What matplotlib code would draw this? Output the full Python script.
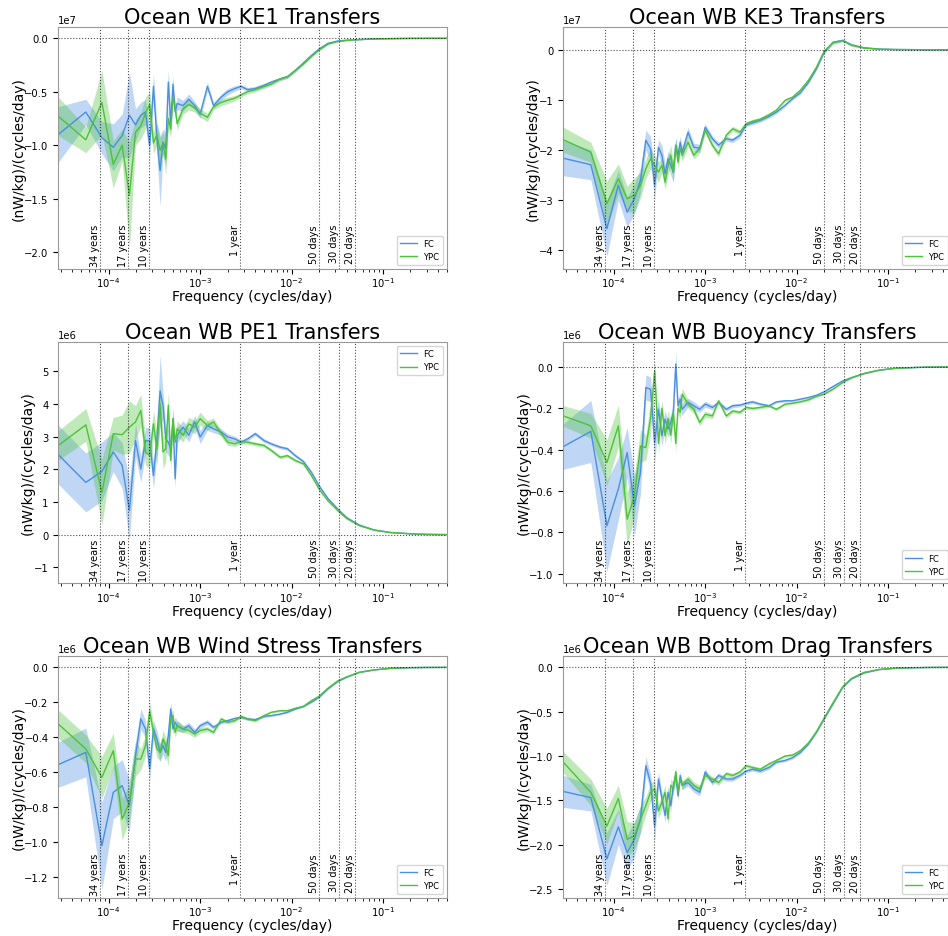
import matplotlib
matplotlib.use('Agg')
import matplotlib.pyplot as plt
import numpy as np

# frequency (cycles/day) shared by all panels
freq = [2.8e-5, 5.6e-5, 8.4e-5, 1.12e-4, 1.4e-4, 1.68e-4, 1.96e-4, 2.24e-4, 2.52e-4, 2.8e-4,
        3.08e-4, 3.36e-4, 3.64e-4, 3.92e-4, 4.2e-4, 4.48e-4, 4.76e-4, 5.04e-4, 5.32e-4, 5.6e-4,
        6.5e-4, 7.5e-4, 8.7e-4, 1.0e-3, 1.2e-3, 1.4e-3, 1.7e-3, 2.0e-3, 2.4e-3, 2.8e-3,
        3.3e-3, 4.0e-3, 5.0e-3, 6.0e-3, 7.5e-3, 9.0e-3, 1.1e-2, 1.35e-2, 1.65e-2, 2.0e-2,
        2.5e-2, 3.2e-2, 4.0e-2, 5.5e-2, 8.0e-2, 0.12, 0.2, 0.3, 0.5]

# KE1 (x1e7)
ke1_fc = [-0.90, -0.69, -0.93, -1.02, -0.91, -0.72, -0.81, -0.72, -0.69, -1.00,
          -0.45, -0.94, -1.24, -0.97, -1.03, -0.41, -0.79, -0.43, -0.69, -0.61,
          -0.63, -0.57, -0.63, -0.71, -0.45, -0.63, -0.55, -0.50, -0.47, -0.45,
          -0.48, -0.47, -0.44, -0.41, -0.38, -0.36, -0.30, -0.23, -0.16, -0.10,
          -0.047, -0.025, -0.018, -0.012, -0.006, -0.003, -0.001, -0.0005, -0.0002]
ke1_fc_err = [0.26, 0.12, 0.15, 0.22, 0.20, 0.40, 0.15, 0.12, 0.12, 0.12,
              0.12, 0.15, 0.33, 0.12, 0.15, 0.12, 0.10, 0.08, 0.06, 0.06,
              0.05, 0.05, 0.04, 0.04, 0.04, 0.03, 0.03, 0.03, 0.025, 0.02,
              0.02, 0.02, 0.02, 0.015, 0.015, 0.015, 0.015, 0.012, 0.01, 0.008,
              0.005, 0.004, 0.003, 0.002, 0.001, 0.001, 0.0005, 0.0003, 0.0002]
ke1_ypc = [-0.73, -0.95, -0.60, -1.18, -1.00, -1.47, -0.88, -0.82, -0.70, -0.62,
           -0.98, -0.90, -1.05, -0.98, -1.13, -0.75, -0.85, -0.55, -0.65, -0.80,
           -0.66, -0.62, -0.65, -0.70, -0.74, -0.64, -0.60, -0.58, -0.56, -0.53,
           -0.50, -0.48, -0.45, -0.43, -0.38, -0.36, -0.30, -0.24, -0.17, -0.11,
           -0.055, -0.030, -0.020, -0.012, -0.006, -0.003, -0.001, -0.0005, -0.0002]
ke1_ypc_err = [0.18, 0.12, 0.30, 0.22, 0.15, 0.50, 0.12, 0.12, 0.15, 0.12,
               0.10, 0.10, 0.12, 0.10, 0.15, 0.10, 0.08, 0.07, 0.06, 0.06,
               0.05, 0.05, 0.04, 0.04, 0.04, 0.03, 0.03, 0.03, 0.025, 0.02,
               0.02, 0.02, 0.02, 0.015, 0.015, 0.015, 0.015, 0.012, 0.01, 0.008,
               0.005, 0.004, 0.003, 0.002, 0.001, 0.001, 0.0005, 0.0003, 0.0002]

# KE3 (x1e7)
ke3_fc = [-2.17, -2.30, -3.58, -2.71, -3.25, -2.98, -2.61, -1.81, -1.98, -2.71,
          -1.95, -2.11, -2.48, -2.18, -2.31, -2.45, -1.91, -2.11, -1.85, -2.05,
          -1.65, -1.95, -1.97, -1.55, -1.78, -1.91, -1.78, -1.81, -1.71, -1.50,
          -1.46, -1.41, -1.33, -1.25, -1.11, -0.98, -0.86, -0.65, -0.38, -0.05,
          0.15, 0.19, 0.10, 0.04, 0.015, 0.006, 0.002, 0.001, 0.0]
ke3_fc_err = [0.35, 0.30, 0.55, 0.30, 0.30, 0.30, 0.25, 0.20, 0.25, 0.30,
              0.15, 0.20, 0.20, 0.15, 0.20, 0.20, 0.15, 0.12, 0.12, 0.12,
              0.10, 0.08, 0.08, 0.07, 0.06, 0.06, 0.05, 0.05, 0.05, 0.04,
              0.04, 0.04, 0.04, 0.03, 0.03, 0.03, 0.03, 0.03, 0.03, 0.03,
              0.03, 0.02, 0.02, 0.01, 0.005, 0.003, 0.002, 0.001, 0.0005]
ke3_ypc = [-1.80, -2.05, -3.08, -2.58, -2.98, -2.91, -2.71, -2.38, -2.18, -2.31,
           -2.45, -2.31, -2.65, -2.31, -2.11, -2.45, -1.91, -2.25, -1.98, -2.11,
           -1.85, -2.11, -1.98, -1.61, -1.91, -2.08, -1.71, -1.58, -1.65, -1.48,
           -1.43, -1.39, -1.30, -1.21, -1.01, -0.95, -0.81, -0.61, -0.35, -0.03,
           0.14, 0.18, 0.09, 0.035, 0.012, 0.005, 0.002, 0.001, 0.0]
ke3_ypc_err = [0.25, 0.20, 0.45, 0.30, 0.25, 0.35, 0.25, 0.20, 0.20, 0.20,
               0.20, 0.15, 0.15, 0.20, 0.20, 0.20, 0.15, 0.12, 0.12, 0.12,
               0.10, 0.08, 0.08, 0.07, 0.06, 0.06, 0.05, 0.05, 0.05, 0.04,
               0.04, 0.04, 0.04, 0.03, 0.03, 0.03, 0.03, 0.03, 0.03, 0.03,
               0.03, 0.02, 0.02, 0.01, 0.005, 0.003, 0.002, 0.001, 0.0005]

# PE1 (x1e6)
pe1_fc = [2.45, 1.60, 1.94, 2.53, 2.12, 0.74, 2.88, 2.01, 2.88, 2.88,
          1.81, 2.93, 4.39, 3.96, 2.93, 2.83, 2.63, 3.55, 1.71, 3.04,
          3.29, 3.04, 3.45, 2.99, 3.34, 3.24, 3.14, 2.99, 2.93, 2.83,
          2.93, 3.09, 2.88, 2.78, 2.68, 2.63, 2.42, 2.24, 1.91, 1.50,
          1.11, 0.79, 0.53, 0.30, 0.15, 0.07, 0.03, 0.012, 0.005]
pe1_fc_err = [0.90, 0.90, 0.90, 0.60, 0.70, 0.90, 0.50, 0.40, 0.40, 0.40,
              0.40, 0.50, 1.10, 0.40, 0.40, 0.40, 0.30, 0.30, 0.30, 0.25,
              0.20, 0.20, 0.20, 0.20, 0.15, 0.12, 0.10, 0.10, 0.08, 0.07,
              0.06, 0.06, 0.06, 0.05, 0.05, 0.05, 0.05, 0.04, 0.04, 0.03,
              0.03, 0.02, 0.02, 0.01, 0.01, 0.005, 0.003, 0.002, 0.001]
pe1_ypc = [2.73, 3.36, 1.30, 3.09, 3.06, 3.29, 3.45, 3.80, 2.53, 2.42,
           3.39, 2.63, 4.01, 2.53, 2.63, 3.96, 2.27, 3.55, 2.83, 3.24,
           3.04, 3.39, 3.29, 3.55, 3.34, 3.45, 3.09, 2.83, 2.78, 2.85,
           2.83, 2.78, 2.73, 2.58, 2.37, 2.42, 2.27, 2.17, 1.81, 1.40,
           1.04, 0.74, 0.50, 0.28, 0.14, 0.07, 0.03, 0.012, 0.005]
pe1_ypc_err = [0.45, 0.50, 1.00, 0.50, 0.60, 0.80, 0.50, 0.50, 0.40, 0.40,
               0.40, 0.50, 0.60, 0.50, 0.40, 0.40, 0.30, 0.30, 0.30, 0.25,
               0.20, 0.20, 0.20, 0.20, 0.15, 0.12, 0.10, 0.10, 0.08, 0.07,
               0.06, 0.06, 0.06, 0.05, 0.05, 0.05, 0.05, 0.04, 0.04, 0.03,
               0.03, 0.02, 0.02, 0.01, 0.01, 0.005, 0.003, 0.002, 0.001]

# Buoyancy (x1e6)
buoy_fc = [-0.385, -0.312, -0.768, -0.590, -0.414, -0.671, -0.510, -0.100, -0.108, -0.366,
           -0.205, -0.333, -0.253, -0.300, -0.269, -0.220, 0.013, -0.188, -0.156, -0.205,
           -0.172, -0.188, -0.205, -0.180, -0.196, -0.172, -0.205, -0.188, -0.185, -0.176,
           -0.169, -0.180, -0.188, -0.169, -0.164, -0.164, -0.156, -0.148, -0.137, -0.121,
           -0.095, -0.068, -0.052, -0.032, -0.016, -0.007, -0.003, -0.001, -0.0005]
buoy_fc_err = [0.11, 0.15, 0.22, 0.15, 0.12, 0.15, 0.10, 0.06, 0.06, 0.10,
               0.05, 0.05, 0.04, 0.04, 0.04, 0.04, 0.06, 0.03, 0.03, 0.03,
               0.02, 0.02, 0.015, 0.015, 0.012, 0.01, 0.01, 0.01, 0.008, 0.008,
               0.008, 0.007, 0.007, 0.006, 0.006, 0.005, 0.005, 0.005, 0.004, 0.004,
               0.004, 0.003, 0.002, 0.002, 0.001, 0.0005, 0.0003, 0.0002, 0.0001]
buoy_ypc = [-0.237, -0.285, -0.462, -0.285, -0.736, -0.623, -0.382, -0.390, -0.250, -0.020,
            -0.370, -0.200, -0.333, -0.250, -0.330, -0.220, -0.370, -0.200, -0.220, -0.132,
            -0.180, -0.205, -0.269, -0.229, -0.237, -0.164, -0.237, -0.213, -0.220, -0.196,
            -0.201, -0.196, -0.188, -0.205, -0.180, -0.176, -0.169, -0.159, -0.143, -0.132,
            -0.108, -0.076, -0.053, -0.032, -0.016, -0.007, -0.003, -0.001, -0.0005]
buoy_ypc_err = [0.05, 0.06, 0.11, 0.10, 0.13, 0.10, 0.08, 0.06, 0.08, 0.05,
                0.05, 0.04, 0.04, 0.04, 0.04, 0.04, 0.04, 0.03, 0.03, 0.03,
                0.02, 0.02, 0.015, 0.015, 0.012, 0.01, 0.01, 0.01, 0.008, 0.008,
                0.008, 0.007, 0.007, 0.006, 0.006, 0.005, 0.005, 0.005, 0.004, 0.004,
                0.004, 0.003, 0.002, 0.002, 0.001, 0.0005, 0.0003, 0.0002, 0.0001]

# Wind stress (x1e6)
wind_fc = [-0.558, -0.488, -1.023, -0.717, -0.679, -0.794, -0.507, -0.296, -0.354, -0.583,
           -0.354, -0.411, -0.488, -0.449, -0.488, -0.392, -0.239, -0.354, -0.315, -0.335,
           -0.354, -0.335, -0.373, -0.335, -0.315, -0.344, -0.315, -0.306, -0.293, -0.287,
           -0.296, -0.300, -0.281, -0.277, -0.268, -0.258, -0.239, -0.224, -0.200, -0.172,
           -0.124, -0.082, -0.057, -0.029, -0.015, -0.006, -0.002, -0.001, -0.0005]
wind_fc_err = [0.13, 0.14, 0.25, 0.15, 0.15, 0.15, 0.08, 0.06, 0.05, 0.07,
               0.05, 0.05, 0.05, 0.05, 0.05, 0.06, 0.04, 0.03, 0.03, 0.03,
               0.02, 0.02, 0.02, 0.015, 0.015, 0.012, 0.01, 0.01, 0.008, 0.008,
               0.008, 0.007, 0.007, 0.006, 0.006, 0.005, 0.005, 0.005, 0.004, 0.004,
               0.004, 0.003, 0.002, 0.002, 0.001, 0.0005, 0.0003, 0.0002, 0.0001]
wind_ypc = [-0.325, -0.468, -0.631, -0.478, -0.870, -0.774, -0.526, -0.526, -0.449, -0.249,
            -0.373, -0.468, -0.488, -0.411, -0.449, -0.507, -0.296, -0.277, -0.373, -0.335,
            -0.354, -0.363, -0.382, -0.363, -0.354, -0.373, -0.296, -0.315, -0.306, -0.281,
            -0.296, -0.306, -0.277, -0.258, -0.249, -0.249, -0.235, -0.224, -0.191, -0.166,
            -0.120, -0.078, -0.055, -0.029, -0.015, -0.006, -0.002, -0.001, -0.0005]
wind_ypc_err = [0.08, 0.08, 0.12, 0.10, 0.12, 0.10, 0.10, 0.06, 0.06, 0.05,
                0.05, 0.05, 0.05, 0.05, 0.05, 0.06, 0.04, 0.03, 0.03, 0.03,
                0.02, 0.02, 0.02, 0.015, 0.015, 0.012, 0.01, 0.01, 0.008, 0.008,
                0.008, 0.007, 0.007, 0.006, 0.006, 0.005, 0.005, 0.005, 0.004, 0.004,
                0.004, 0.003, 0.002, 0.002, 0.001, 0.0005, 0.0003, 0.0002, 0.0001]

# Bottom drag (x1e6)
drag_fc = [-1.40, -1.47, -2.16, -1.80, -2.09, -1.94, -1.71, -1.11, -1.30, -1.79,
           -1.26, -1.48, -1.67, -1.41, -1.56, -1.33, -1.22, -1.45, -1.22, -1.33,
           -1.30, -1.37, -1.41, -1.18, -1.30, -1.22, -1.26, -1.26, -1.22, -1.17,
           -1.15, -1.17, -1.13, -1.07, -1.05, -1.02, -0.96, -0.865, -0.733, -0.583,
           -0.414, -0.226, -0.132, -0.064, -0.026, -0.011, -0.004, -0.0015, -0.0005]
drag_fc_err = [0.18, 0.15, 0.30, 0.20, 0.20, 0.20, 0.15, 0.10, 0.10, 0.18,
               0.08, 0.08, 0.08, 0.07, 0.07, 0.07, 0.06, 0.05, 0.05, 0.05,
               0.04, 0.04, 0.04, 0.035, 0.03, 0.03, 0.025, 0.025, 0.02, 0.02,
               0.02, 0.02, 0.02, 0.015, 0.015, 0.015, 0.015, 0.012, 0.01, 0.01,
               0.008, 0.006, 0.004, 0.003, 0.002, 0.001, 0.0005, 0.0003, 0.0002]
drag_ypc = [-1.07, -1.41, -1.79, -1.48, -1.94, -1.90, -1.71, -1.56, -1.41, -1.37,
            -1.62, -1.52, -1.41, -1.71, -1.33, -1.37, -1.18, -1.41, -1.26, -1.33,
            -1.26, -1.33, -1.37, -1.22, -1.26, -1.30, -1.20, -1.22, -1.18, -1.11,
            -1.13, -1.15, -1.09, -1.05, -1.00, -0.99, -0.94, -0.853, -0.726, -0.575,
            -0.402, -0.218, -0.124, -0.056, -0.024, -0.010, -0.004, -0.0015, -0.0005]
drag_ypc_err = [0.12, 0.15, 0.20, 0.15, 0.20, 0.15, 0.15, 0.10, 0.10, 0.10,
                0.08, 0.08, 0.08, 0.07, 0.07, 0.07, 0.06, 0.05, 0.05, 0.05,
                0.04, 0.04, 0.04, 0.035, 0.03, 0.03, 0.025, 0.025, 0.02, 0.02,
                0.02, 0.02, 0.02, 0.015, 0.015, 0.015, 0.015, 0.012, 0.01, 0.01,
                0.008, 0.006, 0.004, 0.003, 0.002, 0.001, 0.0005, 0.0003, 0.0002]

periods_days = [34 * 365, 17 * 365, 10 * 365, 365, 50, 30, 20]
period_labels = ['34 years', '17 years', '10 years', '1 year', '50 days', '30 days', '20 days']

titles = ['Ocean WB KE1 Transfers', 'Ocean WB KE3 Transfers', 'Ocean WB PE1 Transfers',
          'Ocean WB Buoyancy Transfers', 'Ocean WB Wind Stress Transfers',
          'Ocean WB Bottom Drag Transfers']
scales = [1e7, 1e7, 1e6, 1e6, 1e6, 1e6]
ylims = [(-2.156, 0.103), (-4.38, 0.45), (-1.48, 5.9), (-1.045, 0.121),
         (-1.321, 0.063), (-2.598, 0.124)]
legend_locs = ['lower right', 'lower right', 'upper right', 'lower right',
               'lower right', 'lower right']

panels = [(ke1_fc, ke1_fc_err, ke1_ypc, ke1_ypc_err),
          (ke3_fc, ke3_fc_err, ke3_ypc, ke3_ypc_err),
          (pe1_fc, pe1_fc_err, pe1_ypc, pe1_ypc_err),
          (buoy_fc, buoy_fc_err, buoy_ypc, buoy_ypc_err),
          (wind_fc, wind_fc_err, wind_ypc, wind_ypc_err),
          (drag_fc, drag_fc_err, drag_ypc, drag_ypc_err)]

fc_color = '#4a8fe0'
ypc_color = '#4cc23a'

fig, axes = plt.subplots(3, 2, figsize=(9.48, 9.37), dpi=100)
plt.subplots_adjust(left=0.0615, right=1.004, bottom=0.0409, top=0.9698,
                    wspace=0.30, hspace=0.303)

f = np.array(freq)
for i, ax in enumerate(axes.flat):
    fc, fc_err, ypc, ypc_err = [np.array(a) * scales[i] for a in panels[i]]

    ax.fill_between(f, fc - fc_err, fc + fc_err, color=fc_color, alpha=0.35, lw=0)
    ax.plot(f, fc, color=fc_color, lw=1.0, label='FC')
    ax.fill_between(f, ypc - ypc_err, ypc + ypc_err, color=ypc_color, alpha=0.35, lw=0)
    ax.plot(f, ypc, color=ypc_color, lw=1.0, label='YPC')

    ax.axhline(0, color='k', ls=':', lw=0.8, alpha=0.7)
    for p, lab in zip(periods_days, period_labels):
        ax.axvline(1.0 / p, color='k', ls=':', lw=0.8, alpha=0.7)
        ax.text(1.0 / p, 0.185, lab, rotation=90, ha='right', va='top', fontsize=7,
                transform=ax.get_xaxis_transform())

    ax.set_xscale('log')
    ax.set_xlim(f[0], f[-1])
    ax.set_ylim(ylims[i][0] * scales[i], ylims[i][1] * scales[i])
    ax.set_title(titles[i], fontsize=15, pad=2)
    ax.set_xlabel('Frequency (cycles/day)', fontsize=10, labelpad=0)
    ax.set_ylabel('(nW/kg)/(cycles/day)', fontsize=10, labelpad=-1)
    ax.tick_params(labelsize=7.2)
    ax.tick_params(axis='x', pad=1.5)
    ax.yaxis.get_offset_text().set_fontsize(7.2)
    for s in ax.spines.values():
        s.set_color('#999999')
    ax.legend(loc=legend_locs[i], fontsize=6)

fig.savefig('out.png', dpi=100)
